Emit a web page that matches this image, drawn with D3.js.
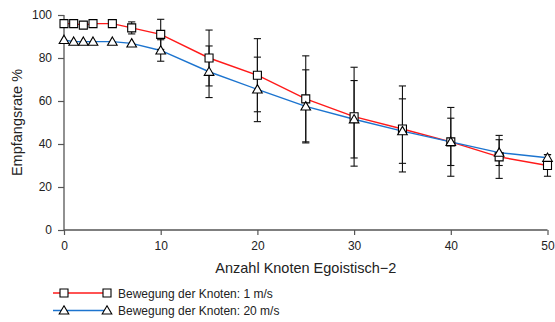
<!DOCTYPE html>
<html>
<head>
<meta charset="utf-8">
<script src="https://cdn.jsdelivr.net/npm/d3@7"></script>
<style>
  body { margin: 0; background: #fff; }
  svg { display: block; }
</style>
</head>
<body>
<div id="chart"></div>
<script>
// knot counts on the x axis
var knoten = [0, 1, 2, 3, 5, 7, 10, 15, 20, 25, 30, 35, 40, 45, 50];

// series 1: 1 m/s (squares, red)
var mean1 = [96, 96, 95.3, 96, 96, 94, 91, 80, 72, 61, 52.7, 47, 41, 34, 30];
var err1  = [0, 0, 0, 0, 0, 2.8, 7, 13, 17, 20, 23, 20, 16, 10, 5];

// series 2: 20 m/s (triangles, blue)
var mean2 = [88.4, 87.6, 87.6, 87.6, 87.6, 86.8, 83.5, 73.6, 65.4, 57.5, 51.5, 46, 41, 36, 33.6];
var err2  = [0, 0, 0, 0, 0, 0, 5, 12, 15, 17, 18, 15, 11, 6, 1.5];

var xTicks = [0, 10, 20, 30, 40, 50];
var yTicks = [0, 20, 40, 60, 80, 100];

var legendLabels = ["Bewegung der Knoten: 1 m/s", "Bewegung der Knoten: 20 m/s"];

var drawChart = function(){
  var width = 555, height = 322;
  var fontFamily = "'Liberation Sans', Arial, Helvetica, sans-serif";
  var red = "#ff1a1a";
  var blue = "#1c74cf";

  var svg = d3.select("#chart").append("svg")
    .attr("width", width)
    .attr("height", height);

  var x = d3.scaleLinear().domain([0, 50]).range([64, 547.5]);
  var y = d3.scaleLinear().domain([0, 100]).range([230, 15]);

  var series = [
    {mean: mean1, err: err1, color: red, shape: "square"},
    {mean: mean2, err: err2, color: blue, shape: "triangle"}
  ];

  // axes
  var xAxis = svg.append("g")
    .attr("transform", "translate(0," + y(0) + ")")
    .call(d3.axisBottom(x).tickValues(xTicks).tickSize(5).tickPadding(6));
  var yAxis = svg.append("g")
    .attr("transform", "translate(" + x(0) + ",0)")
    .call(d3.axisLeft(y).tickValues(yTicks).tickSize(6).tickPadding(6));

  [xAxis, yAxis].forEach(function(ax){
    ax.select(".domain").attr("stroke", "#555").attr("stroke-width", 1.3);
    ax.selectAll(".tick line").attr("stroke", "#555").attr("stroke-width", 1.2);
    ax.selectAll(".tick text")
      .attr("font-family", fontFamily)
      .attr("font-size", 12)
      .attr("fill", "#222");
  });
  // R-style: axis line spans only the ticks
  xAxis.select(".domain").attr("d", "M" + x(0) + ",0H" + x(50));
  yAxis.select(".domain").attr("d", "M0," + y(0) + "V" + y(100));

  // axis titles
  svg.append("text")
    .attr("x", (x(0) + x(50)) / 2)
    .attr("y", 273)
    .attr("text-anchor", "middle")
    .attr("font-family", fontFamily)
    .attr("font-size", 14.5)
    .attr("fill", "#222")
    .text("Anzahl Knoten Egoistisch\u22122");

  svg.append("text")
    .attr("transform", "translate(22," + y(50) + ") rotate(-90)")
    .attr("text-anchor", "middle")
    .attr("font-family", fontFamily)
    .attr("font-size", 14.5)
    .attr("fill", "#222")
    .text("Empfangsrate %");

  var line = d3.line()
    .x(function(d){ return x(d[0]); })
    .y(function(d){ return y(d[1]); });

  var sq = d3.symbol().type(d3.symbolSquare).size(64);
  var tri = d3.symbol().type(d3.symbolTriangle).size(40);

  // lines
  series.forEach(function(s){
    svg.append("path")
      .datum(knoten.map(function(k, i){ return [k, s.mean[i]]; }))
      .attr("fill", "none")
      .attr("stroke", s.color)
      .attr("stroke-width", 1.4)
      .attr("d", line);
  });

  // error bars
  series.forEach(function(s){
    var g = svg.append("g").attr("stroke", "#111").attr("stroke-width", 1.1);
    knoten.forEach(function(k, i){
      if (s.err[i] <= 0) return;
      var cx = x(k), top = y(s.mean[i] + s.err[i]), bot = y(s.mean[i] - s.err[i]);
      g.append("line").attr("x1", cx).attr("x2", cx).attr("y1", top).attr("y2", bot);
      g.append("line").attr("x1", cx - 3.6).attr("x2", cx + 3.6).attr("y1", top).attr("y2", top);
      g.append("line").attr("x1", cx - 3.6).attr("x2", cx + 3.6).attr("y1", bot).attr("y2", bot);
    });
  });

  // markers
  series.forEach(function(s){
    svg.append("g").selectAll("path")
      .data(knoten)
      .enter().append("path")
      .attr("transform", function(k, i){
        var dy = s.shape === "triangle" ? 0.8 : 0;
        return "translate(" + x(k) + "," + (y(s.mean[i]) + dy) + ")";
      })
      .attr("d", s.shape === "square" ? sq : tri)
      .attr("fill", "#fff")
      .attr("stroke", "#000")
      .attr("stroke-width", 1.1);
  });

  // legend
  var legend = svg.append("g");
  series.forEach(function(s, i){
    var ly = 293 + i * 17.5;
    legend.append("line")
      .attr("x1", 53).attr("x2", 107)
      .attr("y1", ly).attr("y2", ly)
      .attr("stroke", s.color).attr("stroke-width", 1.4);
    [64, 107].forEach(function(mx){
      legend.append("path")
        .attr("transform", "translate(" + mx + "," + (ly + (s.shape === "triangle" ? 0.8 : 0)) + ")")
        .attr("d", s.shape === "square" ? sq : tri)
        .attr("fill", "#fff")
        .attr("stroke", "#000")
        .attr("stroke-width", 1.1);
    });
    legend.append("text")
      .attr("x", 118)
      .attr("y", ly + 4.5)
      .attr("font-family", fontFamily)
      .attr("font-size", 12)
      .attr("fill", "#222")
      .text(legendLabels[i]);
  });
};

drawChart();
</script>
</body>
</html>
